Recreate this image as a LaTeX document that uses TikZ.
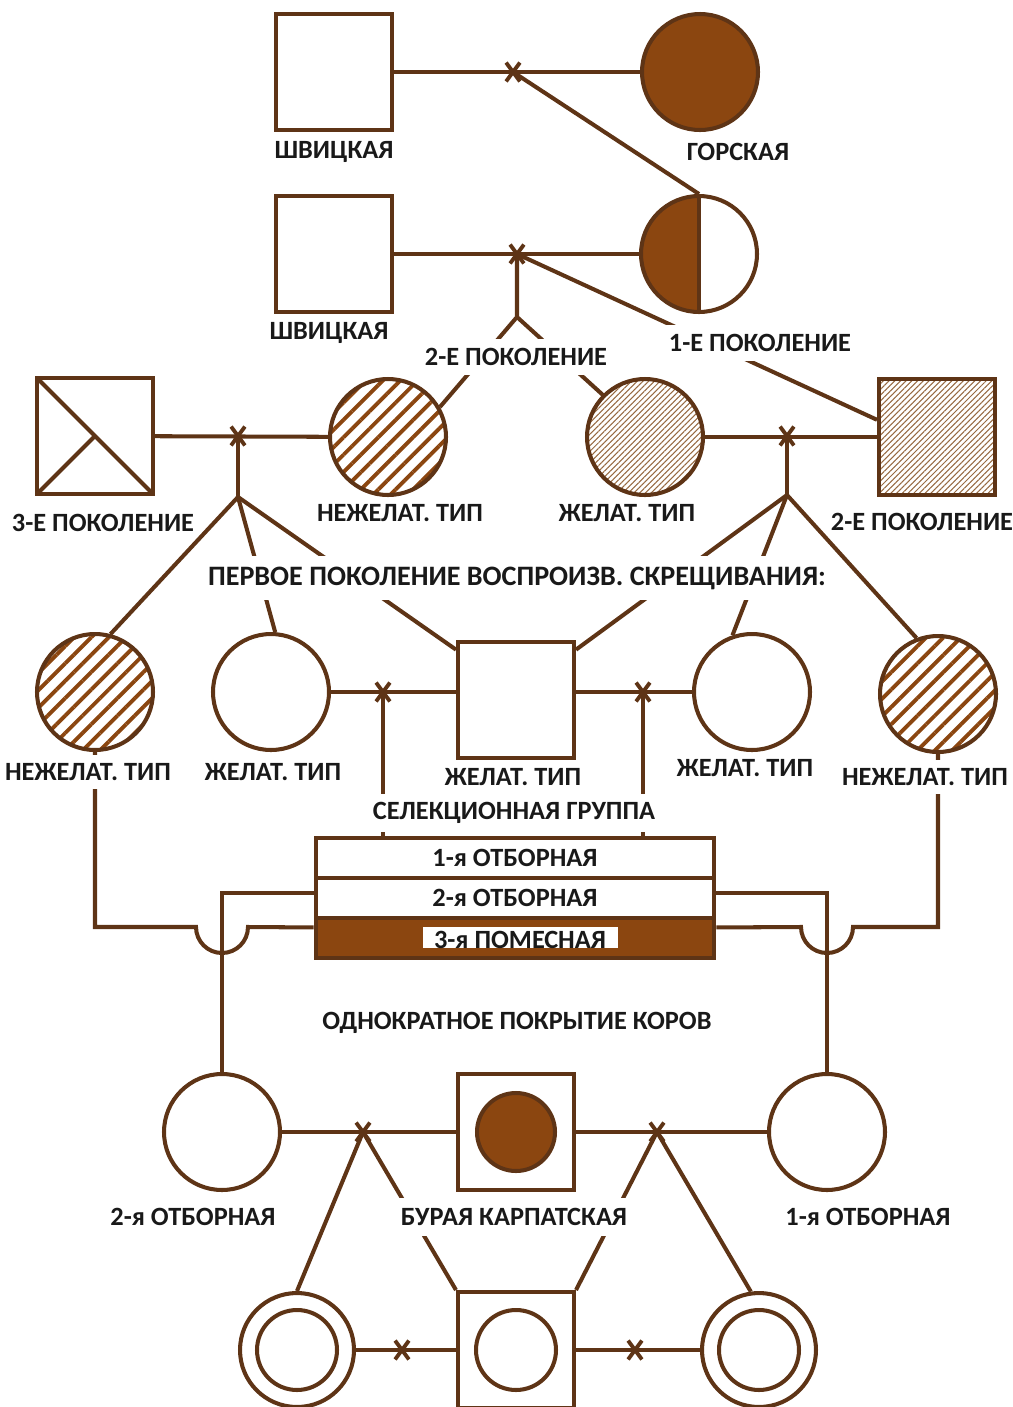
\documentclass[tikz,border=0pt]{standalone}
\usepackage{fontspec}
\setmainfont{Carlito}
\usetikzlibrary{shapes.misc, patterns.meta}
\definecolor{brw}{RGB}{94,52,22}
\definecolor{brfill}{RGB}{139,70,16}
\definecolor{hatchcol}{RGB}{150,105,65}
\tikzset{
    fem/.style={circle, draw=brw, line width=2.3pt, minimum size=2.32cm, inner sep=0pt},
    male/.style={rectangle, draw=brw, line width=2.3pt, minimum size=2.32cm, inner sep=0pt},
    coarse/.style={pattern={Lines[angle=45, distance=7pt, line width=2.2pt]}, pattern color=brfill},
    fine/.style={pattern={Lines[angle=45, distance=2.3pt, line width=0.6pt]}, pattern color=hatchcol},
    con/.style={draw=brw, line width=2.3pt},
    xmark/.style={cross out, draw=brw, line width=2.2pt, minimum width=0.2cm, minimum height=0.3cm, inner sep=0pt},
    lbl/.style={fill=white, inner xsep=3pt, inner ysep=5pt},
    rowbox/.style={rectangle, draw=brw, fill=white, line width=2.3pt, minimum width=7.98cm, minimum height=0.8cm, inner sep=0pt}
}
\begin{document}
\begin{tikzpicture}[x=0.02cm, y=-0.02cm, font=\bfseries\fontsize{15}{17}\selectfont, text=black!90]
\useasboundingbox (0,0) rectangle (1013,1407);

% Parent breeds
\node (shv1) [male] at (334,72) {};
\node (gor) [fem, fill=brfill] at (700,72) {};
\node (shv2) [male] at (334,254) {};
\node (half) [fem, path picture={
    \fill[brfill] (path picture bounding box.north) rectangle (path picture bounding box.south west);
    \draw[brw, line width=2.3pt] (path picture bounding box.north) -- (path picture bounding box.south);}] at (699,254) {};

% Generations 2 and 3
\node (gen3) [male, path picture={
    \draw[brw, line width=2.3pt] (path picture bounding box.north west) -- (path picture bounding box.south east)
        (path picture bounding box.south west) -- (path picture bounding box.center);}] at (95,436) {};
\node (unw1) [fem, coarse] at (388,437) {};
\node (wan1) [fem, fine] at (645,437) {};
\node (gen2sq) [male, fine] at (937,437) {};

% First generation of the reproductive crossing
\node (unwL) [fem, coarse] at (95,692) {};
\node (wanL) [fem] at (271,692) {};
\node (wanM) [male] at (516,700) {};
\node (wanR) [fem] at (752,692) {};
\node (unwR) [fem, coarse] at (938,694) {};

% Selection group
\node (row1) [rowbox] at (515,858) {1-я ОТБОРНАЯ};
\node (row2) [rowbox] at (515,898) {2-я ОТБОРНАЯ};
\node (row3) [rowbox, fill=brfill] at (515,938) {};
\fill[white] (423,927) rectangle (618,948);
\begin{scope}
  \clip (423,927) rectangle (618,948);
  \node (pom) at (520,940) {3-я ПОМЕСНАЯ};
\end{scope}

% Single covering of cows
\node (sel2) [fem] at (222,1132) {};
\node (bk1) [male] at (516,1132) {};
\node (bk1in) [fem, fill=brfill, minimum size=1.56cm] at (bk1) {};
\node (sel1) [fem] at (827,1132) {};
\node (dcL) [fem, minimum size=2.28cm] at (297,1350) {};
\node (dcLin) [fem, minimum size=1.6cm] at (dcL) {};
\node (bk2) [male] at (516,1350) {};
\node (bk2in) [fem, minimum size=1.6cm] at (bk2) {};
\node (dcR) [fem, minimum size=2.28cm] at (759,1350) {};
\node (dcRin) [fem, minimum size=1.6cm] at (dcR) {};

% Crossing points
\coordinate (x1) at (513,72);
\coordinate (x2) at (517,254);
\coordinate (f2) at (517,317);
\coordinate (x3) at (238,436);
\coordinate (f3) at (238,497);
\coordinate (x4) at (787,436);
\coordinate (f4) at (787,495);
\coordinate (x5) at (383,692);
\coordinate (x6) at (643,692);
\coordinate (x7) at (363,1132);
\coordinate (x8) at (657,1132);
\coordinate (x9) at (402,1350);
\coordinate (x10) at (635,1350);
\coordinate (jl) at (196,927);
\coordinate (jr) at (853,927);

% Matings and offspring
\draw [con] (shv1) -- (gor);
\draw [con] (x1) -- (half.north);
\draw [con] (shv2) -- (half);
\draw [con] (x2) -- (f2) -- (unw1.30);
\draw [con] (f2) -- (wan1.135);
\draw [con] (x2) -- (gen2sq.164);
\draw [con] (gen3) -- (unw1);
\draw [con] (x3) -- (f3);
\draw [con] (f3) -- (unwL.75);
\draw [con] (f3) -- (wanL.86);
\draw [con] (f3) -- (wanM.140);
\draw [con] (wan1) -- (gen2sq);
\draw [con] (x4) -- (f4);
\draw [con] (f4) -- (wanM.40);
\draw [con] (f4) -- (wanR.109);
\draw [con] (f4) -- (unwR.111);
\draw [con] (wanL) -- (wanL -| wanM.west);
\draw [con] (wanR) -- (wanR -| wanM.east);
\draw [con] (x5) -- (x5 |- row1.north);
\draw [con] (x6) -- (x6 |- row1.north);

% Into and out of the selection group
\draw [con] (unwL) -- (unwL |- jl) -- (jl) arc[start angle=180, end angle=360, radius=0.52cm] -- ([yshift=6pt]row3.west);
\draw [con] (unwR) -- (unwR |- jr) -- (jr) arc[start angle=0, end angle=-180, radius=0.52cm] -- ([yshift=6pt]row3.east);
\draw [con] ([yshift=3pt]row2.west) -| (sel2);
\draw [con] ([yshift=3pt]row2.east) -| (sel1);

% Bottom matings
\draw [con] (sel2) -- (sel2 -| bk1.west);
\draw [con] (sel1) -- (sel1 -| bk1.east);
\draw [con] (x7) -- (dcL.north);
\draw [con] (x7) -- (bk2.north west);
\draw [con] (x8) -- (bk2.north east);
\draw [con] (x8) -- (dcR.98);
\draw [con] (dcL) -- (dcL -| bk2.west);
\draw [con] (dcR) -- (dcR -| bk2.east);

% Cross marks
\foreach \c in {x1,x2,x3,x4,x5,x6,x7,x8,x9,x10}
  \node [xmark] at (\c) {};

% Labels
\node (lshv1) at (334,152) {ШВИЦКАЯ};
\node (lgor) at (738,152) {ГОРСКАЯ};
\node (lshv2) at (329,333) {ШВИЦКАЯ};
\node (lgen2a) [lbl] at (516,357) {2-Е ПОКОЛЕНИЕ};
\node (lgen1) [lbl] at (760,343) {1-Е ПОКОЛЕНИЕ};
\node (lgen3) at (103,523) {3-Е ПОКОЛЕНИЕ};
\node (lunw1) at (400,513) {НЕЖЕЛАТ. ТИП};
\node (lwan1) at (627,513) {ЖЕЛАТ. ТИП};
\node (lgen2b) at (922,522) {2-Е ПОКОЛЕНИЕ};
\node (lfirst) [lbl, inner ysep=6pt, font=\bfseries\fontsize{16}{18}\selectfont] at (517,578) {ПЕРВОЕ ПОКОЛЕНИЕ ВОСПРОИЗВ. СКРЕЩИВАНИЯ:};
\node (lunwL) [lbl] at (88,772) {НЕЖЕЛАТ. ТИП};
\node (lwanL) at (273,772) {ЖЕЛАТ. ТИП};
\node (lwanM) at (513,777) {ЖЕЛАТ. ТИП};
\node (lwanR) at (745,768) {ЖЕЛАТ. ТИП};
\node (lunwR) [lbl] at (925,777) {НЕЖЕЛАТ. ТИП};
\node (lsel) [lbl] at (514,813) {СЕЛЕКЦИОННАЯ ГРУППА};
\node (lcover) at (517,1023) {ОДНОКРАТНОЕ ПОКРЫТИЕ КОРОВ};
\node (lsel2) at (193,1217) {2-я ОТБОРНАЯ};
\node (lbk) [lbl, inner ysep=6pt] at (514,1217) {БУРАЯ КАРПАТСКАЯ};
\node (lsel1) at (868,1217) {1-я ОТБОРНАЯ};

\end{tikzpicture}
\end{document}
